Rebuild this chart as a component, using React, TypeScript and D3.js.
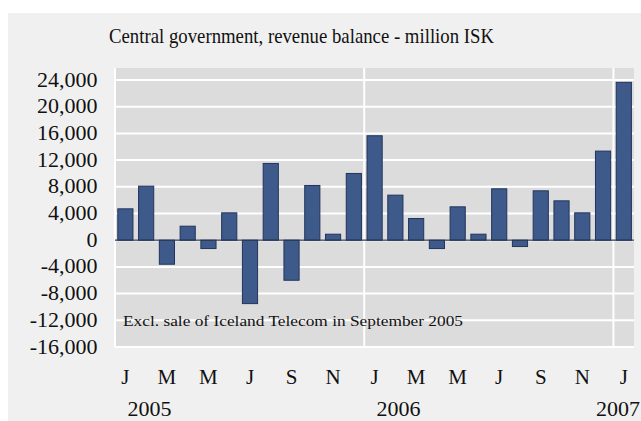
import * as d3 from "d3";
import React from "react";

const months = [
  "2005-01", "2005-02", "2005-03", "2005-04", "2005-05", "2005-06",
  "2005-07", "2005-08", "2005-09", "2005-10", "2005-11", "2005-12",
  "2006-01", "2006-02", "2006-03", "2006-04", "2006-05", "2006-06",
  "2006-07", "2006-08", "2006-09", "2006-10", "2006-11", "2006-12",
  "2007-01",
];

const balance = [
  4700, 8100, -3600, 2100, -1250, 4100, -9500, 11500, -6000, 8200, 900, 10000,
  15650, 6750, 3250, -1250, 5000, 900, 7700, -950, 7400, 5900, 4100, 13350,
  23650,
];

const monthLetters = ["J", "F", "M", "A", "M", "J", "J", "A", "S", "O", "N", "D"];
const yTicks = [24000, 20000, 16000, 12000, 8000, 4000, 0, -4000, -8000, -12000, -16000];
const years = ["2005", "2006", "2007"];

const title = "Central government, revenue balance - million ISK";
const note = "Excl. sale of Iceland Telecom in September 2005";

const W = 641;
const H = 421;
const plot = { left: 115, right: 634, top: 68, bottom: 347 };
const FONT = "'Liberation Serif', 'Times New Roman', serif";

export default function App() {
  const x = d3
    .scaleBand<string>()
    .domain(months)
    .range([plot.left, plot.right])
    .paddingInner(0.27)
    .paddingOuter(0.13);
  const step = x.step();
  const bw = x.bandwidth();
  const y = d3.scaleLinear().domain([-16000, 25800]).range([plot.bottom, plot.top]);
  // plain hyphen for negatives, like the original
  const fmt = (v: number) => d3.format(",")(v).replace("\u2212", "-");

  // left edge of each month's slot (slot = step wide)
  const slotLeft = (m: string) => plot.left + months.indexOf(m) * step;
  const center = (m: string) => slotLeft(m) + step / 2;

  return (
    <>
      <style>{"body{margin:0}"}</style>
      <svg width={W} height={H} style={{ display: "block", fontFamily: FONT }}>
        <rect x={0} y={0} width={W} height={H} fill="#ffffff" />
        <rect x={8} y={13} width={W - 8} height={H - 13} fill="#f0f0f0" />

        <text
          x={109}
          y={43}
          fontSize={22}
          fill="#111"
          textLength={385}
          lengthAdjust="spacingAndGlyphs"
        >
          {title}
        </text>

        {/* plot area */}
        <rect
          x={plot.left}
          y={plot.top}
          width={plot.right - plot.left}
          height={plot.bottom - plot.top}
          fill="#dcdcdc"
        />
        {yTicks.map((t) => (
          <line
            key={t}
            x1={plot.left}
            x2={plot.right}
            y1={y(t)}
            y2={y(t)}
            stroke="#ffffff"
            strokeWidth={2}
          />
        ))}
        {months
          .filter((m) => m.endsWith("-01"))
          .map((m) => (
            <line
              key={m}
              x1={slotLeft(m)}
              x2={slotLeft(m)}
              y1={plot.top}
              y2={plot.bottom}
              stroke="#ffffff"
              strokeWidth={2}
            />
          ))}

        <text
          x={123}
          y={326}
          fontSize={15.5}
          fill="#111"
          textLength={340}
          lengthAdjust="spacingAndGlyphs"
        >
          {note}
        </text>

        {/* bars */}
        {months.map((m, i) => {
          const v = balance[i];
          const y0 = y(Math.max(0, v));
          const h = Math.abs(y(v) - y(0));
          return (
            <rect
              key={m}
              x={center(m) - bw / 2}
              y={y0}
              width={bw}
              height={h}
              fill="#3e5a8a"
              stroke="#22345a"
              strokeWidth={1}
            />
          );
        })}
        <line
          x1={plot.left}
          x2={plot.right}
          y1={y(0)}
          y2={y(0)}
          stroke="#2a3654"
          strokeWidth={1.2}
        />

        {/* y axis labels */}
        {yTicks.map((t) => (
          <text
            key={t}
            x={97.5}
            y={y(t) + 6.5}
            fontSize={22}
            textAnchor="end"
            fill="#111"
          >
            {fmt(t)}
          </text>
        ))}

        {/* month labels, every other month */}
        {months.map((m, i) =>
          i % 2 === 0 ? (
            <text
              key={m}
              x={center(m)}
              y={384}
              fontSize={21}
              textAnchor="middle"
              fill="#111"
            >
              {monthLetters[+m.slice(5) - 1]}
            </text>
          ) : null,
        )}

        {/* year labels */}
        {years.map((yr) => {
          const cx = Math.min(center(`${yr}-01`) + 24, W - 23);
          return (
            <text
              key={yr}
              x={cx}
              y={416}
              fontSize={22}
              textAnchor="middle"
              fill="#111"
            >
              {yr}
            </text>
          );
        })}
      </svg>
    </>
  );
}
